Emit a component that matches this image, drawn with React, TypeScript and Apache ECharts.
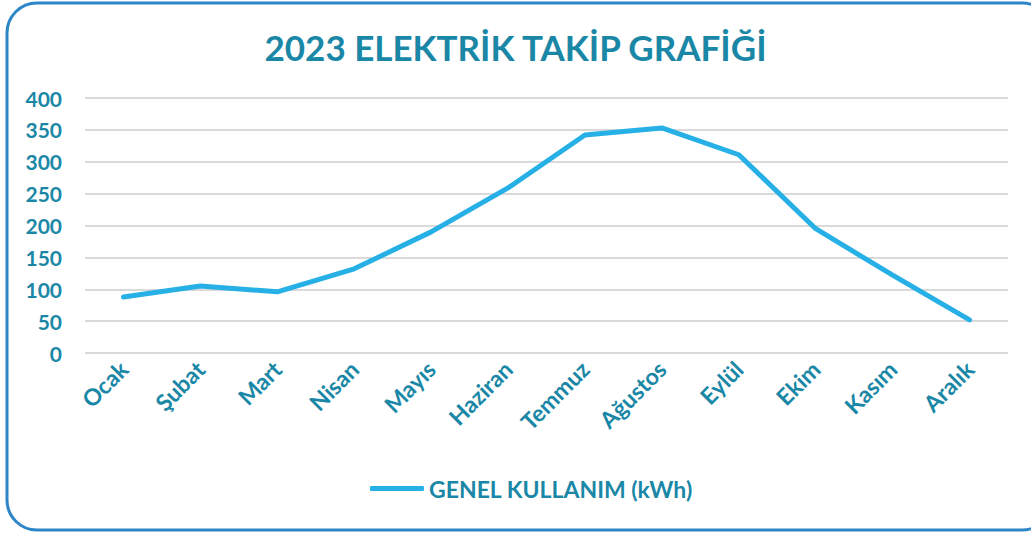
import React, { useEffect, useRef } from "react";
import * as echarts from "echarts";

const months = ["Ocak", "Şubat", "Mart", "Nisan", "Mayıs", "Haziran", "Temmuz", "Ağustos", "Eylül", "Ekim", "Kasım", "Aralık"];
const usage = [88, 105, 96, 132, 190, 259, 342, 353, 311, 195, 122, 52];
const seriesName = "GENEL KULLANIM (kWh)";
const titleText = "2023 ELEKTRİK TAKİP GRAFİĞİ";

const TEAL = "#1a87a6";
const LINE = "#26b0e6";
const FONT = "Lato, 'DejaVu Sans', sans-serif";

export default function App() {
  const ref = useRef<HTMLDivElement>(null);
  useEffect(() => {
    if (!ref.current) return;
    const chart = echarts.init(ref.current, null, { renderer: "svg" });
    chart.setOption({
      animation: false,
      backgroundColor: "#ffffff",
      title: {
        text: titleText,
        left: "center",
        top: 24,
        textStyle: { color: TEAL, fontSize: 35, fontWeight: "bold", fontFamily: FONT },
      },
      graphic: [
        {
          type: "rect",
          shape: { x: 7, y: 3, width: 1045, height: 527, r: 30 },
          style: { fill: "none", stroke: "#2d86c8", lineWidth: 3 },
          silent: true,
        },
      ],
      legend: {
        data: [seriesName],
        bottom: 31,
        left: 365,
        itemWidth: 54,
        itemHeight: 5,
        itemGap: 6,
        icon: "roundRect",
        textStyle: { color: TEAL, fontSize: 23, fontWeight: "bold", fontFamily: FONT },
      },
      grid: { left: 85, right: 23, top: 98, bottom: 183 },
      xAxis: {
        type: "category",
        data: months,
        boundaryGap: true,
        axisLine: { show: false },
        axisTick: { show: false },
        axisLabel: {
          rotate: 45,
          color: TEAL,
          fontSize: 23,
          fontWeight: "bold",
          fontFamily: FONT,
          margin: 12,
          interval: 0,
        },
      },
      yAxis: {
        type: "value",
        min: 0,
        max: 400,
        interval: 50,
        axisLine: { show: false },
        axisTick: { show: false },
        axisLabel: { color: TEAL, fontSize: 21, fontWeight: "bold", fontFamily: FONT, margin: 23 },
        splitLine: { lineStyle: { color: "#d9d9d9", width: 2 } },
      },
      series: [
        {
          name: seriesName,
          type: "line",
          data: usage,
          symbol: "none",
          lineStyle: { color: LINE, width: 5, cap: "round", join: "round" },
          itemStyle: { color: LINE },
        },
      ],
    });
    return () => chart.dispose();
  }, []);
  return (
    <div
      ref={ref}
      style={{ position: "fixed", left: 0, top: 0, width: 1031, height: 536 }}
    />
  );
}
